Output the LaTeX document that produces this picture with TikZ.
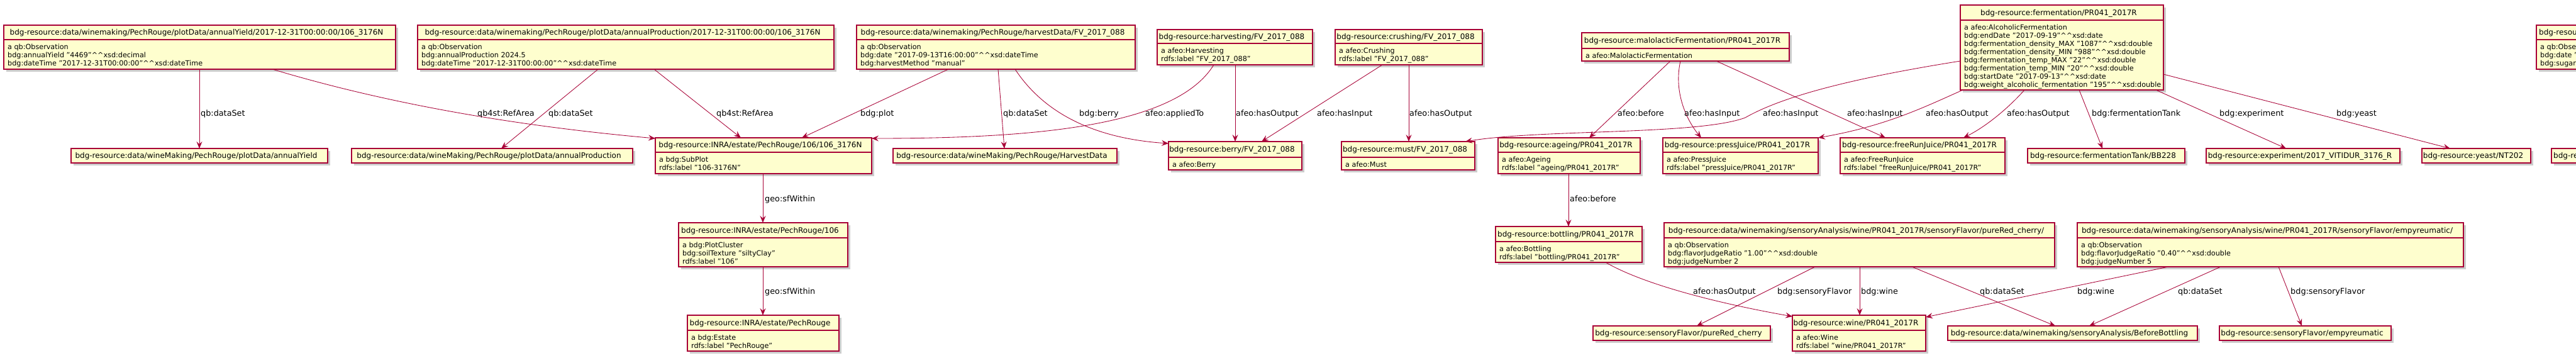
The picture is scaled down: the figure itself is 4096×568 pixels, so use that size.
\documentclass[tikz,border=0pt]{standalone}
\usepackage{fontspec}
\setmainfont{DejaVu Sans}
\usetikzlibrary{calc,arrows.meta,shadows}
\definecolor{pborder}{HTML}{A80036}
\definecolor{pfill}{HTML}{FEFECE}
\newcommand\cc{\textasciicircum\textasciicircum}
\tikzset{
 objbox/.style={draw=pborder, line width=1.15pt, fill=pfill, rectangle, inner sep=0pt, outer sep=0pt, anchor=north west,
   drop shadow={shadow xshift=4pt, shadow yshift=-4pt, fill=black, opacity=0.2}},
 titletext/.style={font=\fontsize{12}{14}\selectfont, inner sep=0pt, text height=8.8pt, text depth=0pt},
 attrtext/.style={font=\fontsize{11.2}{13}\selectfont, inner sep=0pt, text height=8.2pt, text depth=0pt, anchor=west},
 lbl/.style={font=\fontsize{12.8}{15}\selectfont, inner sep=0pt, text height=9.3pt, text depth=0pt, anchor=west},
 rel/.style={draw=pborder, line width=0.85pt, -{Stealth[length=11pt,width=9pt,inset=4pt]}},
 divline/.style={draw=pborder, line width=1.15pt},
}
% name, x1, y1, x2, y2, ydiv, title, attributes
\newcommand\objnode[8]{%
 \node[objbox, minimum width={(#4-#2)*1pt}, minimum height={(#5-#3)*1pt}] (#1) at (#2,#3) {};
 \draw[divline] (#1.west |- 0,#6) -- (#1.east |- 0,#6);
 \node[titletext] (#1-t) at ({(#2+#4)/2-5},{(#3+#6)/2}) {#7};
 \foreach \myattr [count=\i] in {#8} {\node[attrtext] (#1-a\i) at ({#2+6},{#6+11+13*(\i-1)}) {\myattr};}
}
% name, x1, y1, x2, y2, title
\newcommand\simnode[6]{%
 \node[objbox, minimum width={(#4-#2)*1pt}, minimum height={(#5-#3)*1pt}] (#1) at (#2,#3) {};
 \node[titletext] (#1-t) at ({(#2+#4)/2-5},{(#3+#5)/2}) {#6};
}
\begin{document}
\begin{tikzpicture}[x=1pt,y=-1pt]
\useasboundingbox (0,0) rectangle (4096,568);
\fill[white] (0,0) rectangle (4096,568);
\clip (0,0) rectangle (4096,568);

% ---------- row 1
\objnode{N1}{6}{40}{629}{110}{63}{bdg-resource:data/winemaking/PechRouge/plotData/annualYield/2017-12-31T00:00:00/106\_3176N}{{a qb:Observation},{bdg:annualYield "4469"\cc xsd:decimal},{bdg:dateTime "2017-12-31T00:00:00"\cc xsd:dateTime}}
\objnode{N2}{664}{40}{1326}{110}{63}{bdg-resource:data/winemaking/PechRouge/plotData/annualProduction/2017-12-31T00:00:00/106\_3176N}{{a qb:Observation},{bdg:annualProduction 2024.5},{bdg:dateTime "2017-12-31T00:00:00"\cc xsd:dateTime}}
\objnode{N3}{1362}{40}{1805}{110}{63}{bdg-resource:data/winemaking/PechRouge/harvestData/FV\_2017\_088}{{a qb:Observation},{bdg:date "2017-09-13T16:00:00"\cc xsd:dateTime},{bdg:harvestMethod "manual"}}
\objnode{HV}{1840}{47}{2087}{103}{69}{bdg-resource:harvesting/FV\_2017\_088}{{a afeo:Harvesting},{rdfs:label "FV\_2017\_088"}}
\objnode{CR}{2123}{47}{2357}{103}{69}{bdg-resource:crushing/FV\_2017\_088}{{a afeo:Crushing},{rdfs:label "FV\_2017\_088"}}
\objnode{ML}{2515}{52}{2845}{97}{77}{bdg-resource:malolacticFermentation/PR041\_2017R}{{a afeo:MalolacticFermentation}}
\objnode{F}{3117}{8}{3440}{143}{32}{bdg-resource:fermentation/PR041\_2017R}{{a afeo:AlcoholicFermentation},{bdg:endDate "2017-09-19"\cc xsd:date},{bdg:fermentation\_density\_MAX "1087"\cc xsd:double},{bdg:fermentation\_density\_MIN "988"\cc xsd:double},{bdg:fermentation\_temp\_MAX "22"\cc xsd:double},{bdg:fermentation\_temp\_MIN "20"\cc xsd:double},{bdg:startDate "2017-09-13"\cc xsd:date},{bdg:weight\_alcoholic\_fermentation "195"\cc xsd:double}}
% cut-off node at the right edge (top)
\node[objbox, minimum width=200pt, minimum height=70pt] (RT) at (4033,40) {};
\draw[divline] (RT.west |- 0,63) -- (RT.east |- 0,63);
\node[titletext, anchor=west] (RT-t) at (4037,51.5) {bdg-resource};
\node[attrtext] (RT-a1) at (4039,74) {a qb:Observation};
\node[attrtext] (RT-a2) at (4039,87) {bdg:date "};
\node[attrtext] (RT-a3) at (4039,100) {bdg:sugar};

% ---------- row 2
\simnode{D1}{113}{236}{521}{259}{bdg-resource:data/wineMaking/PechRouge/plotData/annualYield}
\simnode{D2}{559}{236}{1006}{259}{bdg-resource:data/wineMaking/PechRouge/plotData/annualProduction}
\objnode{S}{1042}{219}{1386}{276}{242}{bdg-resource:INRA/estate/PechRouge/106/106\_3176N}{{a bdg:SubPlot},{rdfs:label "106-3176N"}}
\simnode{D3}{1420}{236}{1776}{259}{bdg-resource:data/wineMaking/PechRouge/HarvestData}
\objnode{B}{1858}{225}{2070}{270}{250}{bdg-resource:berry/FV\_2017\_088}{{a afeo:Berry}}
\objnode{M}{2133}{225}{2345}{270}{250}{bdg-resource:must/FV\_2017\_088}{{a afeo:Must}}
\objnode{AG}{2382}{219}{2608}{276}{242}{bdg-resource:ageing/PR041\_2017R}{{a afeo:Ageing},{rdfs:label "ageing/PR041\_2017R"}}
\objnode{PJ}{2644}{219}{2891}{276}{242}{bdg-resource:pressJuice/PR041\_2017R}{{a afeo:PressJuice},{rdfs:label "pressJuice/PR041\_2017R"}}
\objnode{FR}{2926}{219}{3188}{276}{242}{bdg-resource:freeRunJuice/PR041\_2017R}{{a afeo:FreeRunJuice},{rdfs:label "freeRunJuice/PR041\_2017R"}}
\simnode{FT}{3224}{236}{3474}{259}{bdg-resource:fermentationTank/BB228}
\simnode{EX}{3508}{236}{3816}{259}{bdg-resource:experiment/2017\_VITIDUR\_3176\_R}
\simnode{YE}{3851}{236}{4024}{259}{bdg-resource:yeast/NT202}
\node[objbox, minimum width=200pt, minimum height=23pt] (RB) at (4057,236) {};
\node[titletext, anchor=west] (RB-t) at (4060,247.5) {bdg-re};

% ---------- row 3
\objnode{PC}{1079}{354}{1348}{424}{378}{bdg-resource:INRA/estate/PechRouge/106}{{a bdg:PlotCluster},{bdg:soilTexture "siltyClay"},{rdfs:label "106"}}
\objnode{BT}{2378}{360}{2611}{417}{384}{bdg-resource:bottling/PR041\_2017R}{{a afeo:Bottling},{rdfs:label "bottling/PR041\_2017R"}}
\objnode{SP1}{2646}{354}{3267}{424}{378}{bdg-resource:data/winemaking/sensoryAnalysis/wine/PR041\_2017R/sensoryFlavor/pureRed\_cherry/}{{a qb:Observation},{bdg:flavorJudgeRatio "1.00"\cc xsd:double},{bdg:judgeNumber 2}}
\objnode{SP2}{3303}{354}{3917}{424}{378}{bdg-resource:data/winemaking/sensoryAnalysis/wine/PR041\_2017R/sensoryFlavor/empyreumatic/}{{a qb:Observation},{bdg:flavorJudgeRatio "0.40"\cc xsd:double},{bdg:judgeNumber 5}}

% ---------- row 4
\objnode{ES}{1093}{501}{1334}{558}{525}{bdg-resource:INRA/estate/PechRouge}{{a bdg:Estate},{rdfs:label "PechRouge"}}
\simnode{PR}{2533}{518}{2815}{541}{bdg-resource:sensoryFlavor/pureRed\_cherry}
\objnode{WI}{2850}{501}{3062}{558}{525}{bdg-resource:wine/PR041\_2017R}{{a afeo:Wine},{rdfs:label "wine/PR041\_2017R"}}
\simnode{BB}{3097}{518}{3494}{541}{bdg-resource:data/winemaking/sensoryAnalysis/BeforeBottling}
\simnode{SF}{3529}{518}{3802}{541}{bdg-resource:sensoryFlavor/empyreumatic}

% ---------- connectors
\draw[rel] ($(N1.north west)+(311,70)$) -- ($(D1.north west)+(204,0)$);
\draw[rel] ($(N1.north west)+(427,70)$) .. controls (633,170) and (842,202) .. ($(S.north west)+(0,1)$);
\draw[rel] ($(N2.north west)+(287,70)$) -- ($(D2.north west)+(238,0)$);
\draw[rel] ($(N2.north west)+(376,70)$) -- ($(S.north west)+(136,0)$);
\draw[rel] ($(N3.north west)+(146,70)$) -- ($(S.north west)+(233,0)$);
\draw[rel] ($(N3.north west)+(225,70)$) -- ($(D3.north west)+(177,0)$);
\draw[rel] ($(N3.north west)+(252,70)$) .. controls (1660,180) and (1740,220) .. ($(B.north west)+(0,3)$);
\draw[rel] ($(HV.north west)+(90,56)$) .. controls (1870,200) and (1650,220) .. ($(S.north east)+(0,1)$);
\draw[rel] ($(HV.north west)+(124,56)$) -- ($(B.north west)+(106,0)$);
\draw[rel] ($(CR.north west)+(75,56)$) -- ($(B.north west)+(148,0)$);
\draw[rel] ($(CR.north west)+(117,56)$) -- ($(M.north west)+(107,0)$);
\draw[rel] ($(ML.north west)+(141,45)$) -- ($(AG.north west)+(145,0)$);
\draw[rel] ($(ML.north west)+(157,45)$) .. controls (2660,150) and (2685,195) .. ($(PJ.north west)+(61,0)$);
\draw[rel] ($(F.north west)+(0,89)$) .. controls (2960,122) and (2840,150) .. (2775,187) .. controls (2700,215) and (2450,205) .. ($(M.north west)+(197,0)$);
\draw[rel] ($(ML.north west)+(214,45)$) -- ($(FR.north west)+(72,0)$);
\draw[rel] ($(F.north west)+(4,135)$) .. controls (3060,170) and (3000,200) .. (PJ.north east);
\draw[rel] ($(F.north west)+(102,135)$) .. controls (3195,170) and (3160,200) .. ($(FR.north west)+(196,0)$);
\draw[rel] ($(F.north west)+(189,135)$) -- ($(FT.north west)+(119,0)$);
\draw[rel] ($(F.north west)+(311,135)$) -- ($(EX.north west)+(127,0)$);
\draw[rel] ($(F.north east)+(0,110)$) -- ($(YE.north west)+(45,0)$);
\draw[rel] ($(S.north west)+(171,57)$) -- ($(PC.north west)+(134,0)$);
\draw[rel] ($(PC.north west)+(134,70)$) -- ($(ES.north west)+(120,0)$);
\draw[rel] ($(AG.north west)+(112,57)$) -- ($(BT.north west)+(116,0)$);
\draw[rel] ($(BT.north west)+(175,57)$) .. controls (2610,450) and (2720,480) .. ($(WI.north west)+(0,2)$);
\draw[rel] ($(SP1.north west)+(240,70)$) -- ($(PR.north west)+(165,0)$);
\draw[rel] ($(SP1.north west)+(311,70)$) -- ($(WI.north west)+(107,0)$);
\draw[rel] ($(SP1.north west)+(394,70)$) -- ($(BB.north west)+(171,0)$);
\draw[rel] ($(SP2.north west)+(145,70)$) -- ($(WI.north east)+(0,3)$);
\draw[rel] ($(SP2.north west)+(228,70)$) -- ($(BB.north west)+(225,0)$);
\draw[rel] ($(SP2.north west)+(320,70)$) -- ($(SF.north west)+(131,0)$);

% ---------- connector labels
\node[lbl] (l1) at (319,180) {qb:dataSet};
\node[lbl] (l2) at (759,180) {qb4st:RefArea};
\node[lbl] (l3) at (872,180) {qb:dataSet};
\node[lbl] (l4) at (1139,180) {qb4st:RefArea};
\node[lbl] (l5) at (1368,180) {bdg:plot};
\node[lbl] (l6) at (1595,180) {qb:dataSet};
\node[lbl] (l7) at (1716,180) {bdg:berry};
\node[lbl] (l8) at (1821,180) {afeo:appliedTo};
\node[lbl] (l9) at (1965,180) {afeo:hasOutput};
\node[lbl] (l10) at (2094,180) {afeo:hasInput};
\node[lbl] (l11) at (2241,180) {afeo:hasOutput};
\node[lbl] (l12) at (2572,180) {afeo:before};
\node[lbl] (l13) at (2678,180) {afeo:hasInput};
\node[lbl] (l14) at (2803,180) {afeo:hasInput};
\node[lbl] (l15) at (2937,180) {afeo:hasInput};
\node[lbl] (l16) at (3062,180) {afeo:hasOutput};
\node[lbl] (l17) at (3191,180) {afeo:hasOutput};
\node[lbl] (l18) at (3326,180) {bdg:fermentationTank};
\node[lbl] (l19) at (3529,180) {bdg:experiment};
\node[lbl] (l20) at (3715,180) {bdg:yeast};
\node[lbl] (l21) at (1216,316) {geo:sfWithin};
\node[lbl] (l22) at (1216,463) {geo:sfWithin};
\node[lbl] (l23) at (2496,316) {afeo:before};
\node[lbl] (l24) at (2692,463) {afeo:hasOutput};
\node[lbl] (l25) at (2826,463) {bdg:sensoryFlavor};
\node[lbl] (l26) at (2959,463) {bdg:wine};
\node[lbl] (l27) at (3148,463) {qb:dataSet};
\node[lbl] (l28) at (3303,463) {bdg:wine};
\node[lbl] (l29) at (3463,463) {qb:dataSet};
\node[lbl] (l30) at (3642,463) {bdg:sensoryFlavor};
\end{tikzpicture}
\end{document}
